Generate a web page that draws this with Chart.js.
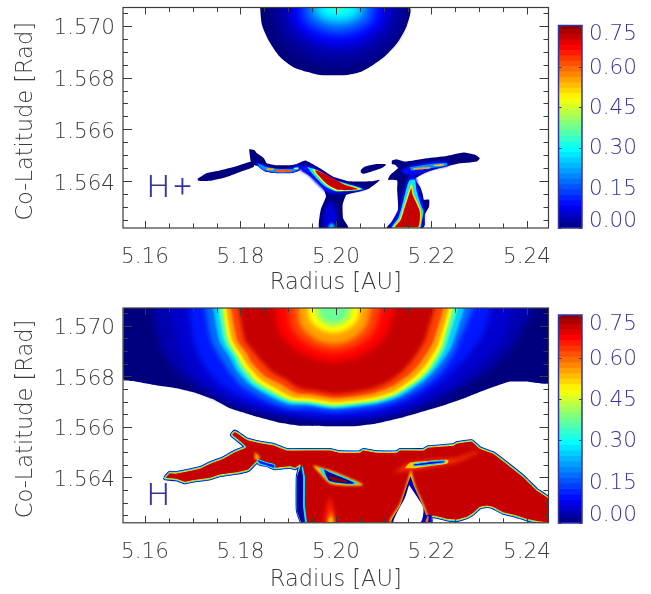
<!DOCTYPE html>
<html>
<head>
<meta charset="utf-8">
<script src="https://cdn.jsdelivr.net/npm/chart.js@4"></script>
<style>
  html, body { margin: 0; background: #fff; }
  canvas { position: absolute; filter: blur(0.45px); }
</style>
</head>
<body>
<canvas id="topMain"></canvas>
<canvas id="topBar"></canvas>
<canvas id="botMain"></canvas>
<canvas id="botBar"></canvas>
<script>
// axis ticks
const radiusTicks = [5.16,5.165,5.17,5.175,5.18,5.185,5.19,5.195,5.2,5.205,5.21,5.215,5.22,5.225,5.23,5.235,5.24];
const radiusLabels = ['5.16','5.18','5.20','5.22','5.24'];
const colatTicks = [1.5625,1.563,1.5635,1.564,1.5645,1.565,1.5655,1.566,1.5665,1.567,1.5675,1.568,1.5685,1.569,1.5695,1.57,1.5705];
const colatLabels = ['1.564','1.566','1.568','1.570'];
const barTicks = [0,0.15,0.3,0.45,0.6,0.75];
const barLabelAt = [0.026,0.145,0.295,0.445,0.595,0.72];
const barTickLabels = ['0.00','0.15','0.30','0.45','0.60','0.75'];
const barLevels = [0,0.02,0.04,0.06,0.08,0.1,0.12,0.14,0.16,0.18,0.2,0.22,0.24,0.26,0.28,0.3,0.32,0.34,0.36,0.38,0.4,0.42,0.44,0.46,0.48,0.5,0.52,0.54,0.56,0.58,0.6,0.62,0.64,0.66,0.68,0.7,0.72,0.74,0.76];

// colour table of the plot
const stopValues = [0,0.08,0.29,0.48,0.67,0.76];
const stopColors = [[0,0,127],[0,0,255],[0,255,255],[255,255,0],[255,0,0],[127,0,0]];

// H+ panel
const hPlusDomeLevels = [0.015,0.03,0.055,0.085,0.12,0.16,0.21,0.255,0.29,0.33];
const hPlusDomeEdge = [[5.1841,1.5707],[5.1845,1.57003],[5.1862,1.56933],[5.1883,1.56879],[5.191,1.56841],[5.1941,1.56821],[5.1966,1.5681],[5.2023,1.5681],[5.2056,1.56825],[5.2098,1.56875],[5.2128,1.56933],[5.2149,1.57003],[5.2153,1.5707]];
const hPlusDome = [
  [[5.1863,1.5707],[5.1874,1.56978],[5.1905,1.56906],[5.1951,1.56858],[5.2005,1.56839],[5.2059,1.56858],[5.2105,1.56906],[5.2136,1.56978],[5.2147,1.5707]],
  [[5.1879,1.5707],[5.1889,1.56993],[5.1917,1.56933],[5.1957,1.56893],[5.2005,1.56877],[5.2053,1.56893],[5.2093,1.56933],[5.2121,1.56993],[5.2131,1.5707]],
  [[5.1894,1.5707],[5.1903,1.57005],[5.1927,1.56955],[5.1963,1.56921],[5.2005,1.56908],[5.2047,1.56921],[5.2083,1.56955],[5.2107,1.57005],[5.2116,1.5707]],
  [[5.1909,1.5707],[5.1916,1.57016],[5.1938,1.56974],[5.1968,1.56946],[5.2005,1.56935],[5.2042,1.56946],[5.2072,1.56974],[5.2094,1.57016],[5.2101,1.5707]],
  [[5.1921,1.5707],[5.1928,1.57025],[5.1946,1.5699],[5.1973,1.56967],[5.2005,1.56958],[5.2037,1.56967],[5.2064,1.5699],[5.2082,1.57025],[5.2089,1.5707]],
  [[5.1934,1.5707],[5.1939,1.57033],[5.1955,1.57005],[5.1978,1.56985],[5.2005,1.56978],[5.2032,1.56985],[5.2055,1.57005],[5.2071,1.57033],[5.2076,1.5707]],
  [[5.1946,1.5707],[5.1951,1.57042],[5.1964,1.57021],[5.1983,1.57006],[5.2005,1.57001],[5.2027,1.57006],[5.2046,1.57021],[5.2059,1.57042],[5.2064,1.5707]],
  [[5.1957,1.5707],[5.1961,1.57048],[5.1971,1.57032],[5.1987,1.5702],[5.2005,1.57016],[5.2023,1.5702],[5.2039,1.57032],[5.2049,1.57048],[5.2053,1.5707]],
  [[5.1969,1.5707],[5.1972,1.57056],[5.198,1.57045],[5.1992,1.57038],[5.2005,1.57035],[5.2018,1.57038],[5.203,1.57045],[5.2038,1.57056],[5.2041,1.5707]],
  [[5.1988,1.5707],[5.199,1.57064],[5.1993,1.57059],[5.1999,1.57056],[5.2005,1.57055],[5.2011,1.57056],[5.2017,1.57059],[5.202,1.57064],[5.2022,1.5707]]
];
const hPlusTail = [[5.171,1.5641],[5.173,1.56432],[5.1757,1.56442],[5.1788,1.56456],[5.1828,1.56478],[5.1828,1.56456],[5.1799,1.56436],[5.1768,1.56415],[5.1736,1.56402],[5.1712,1.56402]];
const hPlusWing = [[5.1818,1.56524],[5.1829,1.56521],[5.1834,1.56509],[5.1849,1.56489],[5.1855,1.5647],[5.1876,1.56462],[5.1904,1.56462],[5.1918,1.56467],[5.1935,1.5648],[5.1946,1.56472],[5.1966,1.56451],[5.1994,1.56418],[5.2029,1.564],[5.2075,1.564],[5.2092,1.56406],[5.2085,1.56393],[5.2068,1.5637],[5.205,1.56361],[5.2022,1.56348],[5.2014,1.5631],[5.2015,1.56258],[5.2026,1.5622],[5.1965,1.5622],[5.1968,1.5629],[5.1979,1.56341],[5.1973,1.56374],[5.1952,1.56412],[5.1932,1.56438],[5.1925,1.56447],[5.1904,1.56442],[5.1876,1.56432],[5.1851,1.56438],[5.1841,1.56457],[5.1823,1.56467]];
const hPlusIsland = [[5.2052,1.56444],[5.2061,1.56457],[5.2082,1.56466],[5.2105,1.56465],[5.2096,1.56451],[5.2075,1.56438],[5.2057,1.56429],[5.2052,1.56434]];
const hPlusStem = [[5.2117,1.5648],[5.2127,1.56485],[5.2144,1.56476],[5.219,1.56489],[5.2232,1.56498],[5.2267,1.56511],[5.2291,1.56502],[5.2301,1.56489],[5.2295,1.56476],[5.2253,1.56467],[5.2218,1.56451],[5.2186,1.56432],[5.2165,1.56408],[5.2176,1.5638],[5.2182,1.56348],[5.2184,1.56329],[5.2195,1.56329],[5.2195,1.56303],[5.2186,1.56271],[5.2186,1.56233],[5.2182,1.5622],[5.2106,1.5622],[5.2117,1.56245],[5.213,1.5629],[5.2128,1.56367],[5.2128,1.56403],[5.2109,1.56406],[5.2114,1.56425],[5.213,1.56451],[5.2123,1.56464],[5.2117,1.56467]];
const wedgeBlue = [[5.1925,1.56464],[5.1952,1.56457],[5.1973,1.56432],[5.2008,1.56399],[5.2061,1.5637],[5.2015,1.56355],[5.1983,1.56356],[5.1962,1.56387],[5.1941,1.56425],[5.1925,1.56444]];
const wedgeCyan = [[5.1939,1.56456],[5.196,1.56444],[5.1994,1.56408],[5.2056,1.5637],[5.2002,1.56361],[5.1977,1.5638],[5.1952,1.56425]];
const wedgeYellow = [[5.195,1.56449],[5.1973,1.56432],[5.2008,1.56395],[5.2052,1.5637],[5.2004,1.56363],[5.1981,1.56383],[5.1958,1.56425]];
const wedgeRed = [[5.1956,1.56444],[5.1977,1.56429],[5.2015,1.5639],[5.2046,1.5637],[5.2006,1.56367],[5.1983,1.56387],[5.196,1.56429]];
const streakBlue = [[5.1832,1.56476],[5.1855,1.5646],[5.1876,1.56451],[5.1904,1.56453],[5.1921,1.56464],[5.1925,1.56444],[5.1907,1.56432],[5.1872,1.56432],[5.1848,1.56442],[5.1837,1.56457]];
const streakCyan = [[5.1837,1.5647],[5.1855,1.56455],[5.1876,1.56448],[5.1907,1.56447],[5.1921,1.56456],[5.1923,1.56447],[5.1907,1.56435],[5.1874,1.56434],[5.1849,1.56444],[5.1839,1.56457]];
const pillOne = [[5.1855,1.56452],[5.187,1.56449],[5.187,1.56443],[5.1855,1.56444]];
const pillTwo = [[5.1874,1.56445],[5.1905,1.56444],[5.1905,1.56437],[5.1874,1.56437]];
const pillThree = [[5.1912,1.56452],[5.1921,1.56452],[5.1921,1.56447],[5.1912,1.56447]];
const barBlue = [[5.2134,1.56442],[5.2162,1.56464],[5.2204,1.56476],[5.2235,1.56476],[5.2235,1.5646],[5.2204,1.56447],[5.2172,1.56425],[5.2148,1.56425]];
const barCyan = [[5.2155,1.56455],[5.22,1.56467],[5.2232,1.5647],[5.2232,1.56461],[5.22,1.56451],[5.2158,1.56442]];
const barOrangeOne = [[5.2162,1.56451],[5.2197,1.56455],[5.2197,1.56449],[5.2162,1.56445]];
const barOrangeTwo = [[5.2205,1.56464],[5.2226,1.56466],[5.2226,1.56461],[5.2205,1.56459]];
const stemBlue = [[5.2151,1.56416],[5.2165,1.56421],[5.2174,1.56367],[5.2184,1.56297],[5.2184,1.56239],[5.218,1.5622],[5.2112,1.5622],[5.2124,1.56258],[5.2134,1.56303],[5.214,1.56355],[5.2147,1.56395]];
const stemCyan = [[5.2155,1.56406],[5.2165,1.56406],[5.2169,1.56361],[5.2179,1.56303],[5.2183,1.56285],[5.2179,1.56239],[5.2176,1.5622],[5.2117,1.5622],[5.213,1.56258],[5.2137,1.56297],[5.2144,1.56348],[5.2151,1.56393]];
const stemRed = [[5.2158,1.56387],[5.2162,1.56348],[5.2176,1.5629],[5.2177,1.56252],[5.2172,1.5622],[5.2121,1.5622],[5.2134,1.56252],[5.2142,1.56297],[5.2151,1.56348]];
const leftStemBlue = [[5.1977,1.56297],[5.1987,1.56322],[5.1998,1.56297],[5.2003,1.5622],[5.1974,1.5622]];
const leftStemCyan = [[5.1982,1.5622],[5.1991,1.56239],[5.1998,1.5622]];

// H panel
const hDomeEdge = [[5.1555,1.5707],[5.1555,1.56785],[5.1575,1.56781],[5.1617,1.56766],[5.1666,1.56752],[5.1708,1.56733],[5.1743,1.56709],[5.1778,1.56673],[5.1827,1.56644],[5.1883,1.56616],[5.1925,1.56604],[5.2036,1.56602],[5.2078,1.56611],[5.2141,1.56638],[5.2218,1.5668],[5.2274,1.56717],[5.2316,1.56748],[5.2364,1.56779],[5.2399,1.56779],[5.2445,1.56772],[5.2445,1.5707]];
const hDomeLevels = [0.03,0.05,0.1,0.17,0.25,0.35,0.48,0.55,0.62,0.71];
const hDome = [
  [[5.161,1.5707],[5.1631,1.56924],[5.1669,1.56815],[5.1726,1.5674],[5.1799,1.5668],[5.1893,1.5664],[5.2,1.56625],[5.2103,1.5664],[5.2197,1.56695],[5.227,1.56765],[5.2333,1.56845],[5.2385,1.56964],[5.2417,1.5707]],
  [[5.1652,1.5707],[5.1665,1.56944],[5.1694,1.56825],[5.1747,1.56738],[5.182,1.56678],[5.1904,1.56643],[5.2,1.56627],[5.2092,1.56643],[5.2176,1.5669],[5.2249,1.56766],[5.2312,1.56865],[5.2354,1.56964],[5.2371,1.5707]],
  [[5.1688,1.5707],[5.1701,1.56944],[5.1726,1.56833],[5.1768,1.56754],[5.1837,1.56694],[5.1914,1.56659],[5.2,1.56647],[5.2088,1.56663],[5.2165,1.56714],[5.2228,1.56793],[5.2281,1.56896],[5.2312,1.56983],[5.2322,1.5707]],
  [[5.1719,1.5707],[5.1738,1.56944],[5.1763,1.56857],[5.1799,1.56766],[5.1845,1.56714],[5.1899,1.56674],[5.1946,1.56674],[5.1994,1.56663],[5.204,1.5667],[5.2088,1.56682],[5.2138,1.5671],[5.2186,1.56762],[5.2222,1.56825],[5.2255,1.56924],[5.2287,1.5707]],
  [[5.1736,1.5707],[5.1755,1.56944],[5.1778,1.56872],[5.1791,1.56825],[5.182,1.56766],[5.1851,1.5673],[5.1899,1.5669],[5.1946,1.56684],[5.1994,1.56672],[5.2036,1.56678],[5.2088,1.56692],[5.2134,1.5672],[5.2178,1.56773],[5.2209,1.56829],[5.2243,1.56924],[5.2266,1.5707]],
  [[5.1747,1.5707],[5.1765,1.56944],[5.1786,1.56876],[5.1799,1.56829],[5.1826,1.5677],[5.1855,1.56738],[5.1902,1.56698],[5.1946,1.56692],[5.1994,1.56678],[5.2036,1.56686],[5.2086,1.56698],[5.213,1.56726],[5.2174,1.56779],[5.2203,1.56833],[5.2232,1.56928],[5.2251,1.5707]],
  [[5.1756,1.5707],[5.1774,1.56944],[5.1795,1.56876],[5.1806,1.56837],[5.1834,1.56777],[5.1862,1.56746],[5.1904,1.56706],[5.1946,1.56699],[5.1994,1.56686],[5.2036,1.56693],[5.2086,1.56706],[5.2128,1.56734],[5.217,1.56785],[5.2197,1.56837],[5.2224,1.56932],[5.2239,1.5707]],
  [[5.1763,1.5707],[5.1782,1.56944],[5.1803,1.5688],[5.1814,1.56845],[5.1841,1.56789],[5.1868,1.56758],[5.1908,1.56718],[5.1948,1.56711],[5.1994,1.56698],[5.2036,1.56704],[5.2084,1.56718],[5.2124,1.56744],[5.2163,1.56795],[5.2188,1.56845],[5.2216,1.56936],[5.2232,1.5707]],
  [[5.1772,1.5707],[5.1793,1.56944],[5.1814,1.56888],[5.1824,1.56853],[5.1851,1.56801],[5.1879,1.56773],[5.1916,1.56734],[5.1952,1.56727],[5.1994,1.56714],[5.2036,1.5672],[5.208,1.56734],[5.2117,1.5676],[5.2155,1.56809],[5.2178,1.56857],[5.2205,1.56944],[5.2222,1.5707]],
  [[5.1788,1.5707],[5.1809,1.56944],[5.1828,1.56896],[5.1841,1.56865],[5.1866,1.56817],[5.1893,1.56789],[5.1925,1.5675],[5.1958,1.56742],[5.1994,1.5673],[5.2036,1.56736],[5.2075,1.5675],[5.2109,1.56777],[5.2142,1.56825],[5.2163,1.56872],[5.2188,1.56952],[5.2203,1.5707]]
];
const hDomeInnerLevels = [0.67,0.62,0.55,0.48,0.42,0.37];
const hDomeInner = [
  [[5.1869,1.5707],[5.1879,1.56984],[5.1907,1.56918],[5.1947,1.56873],[5.1995,1.56856],[5.2043,1.56873],[5.2083,1.56918],[5.2111,1.56984],[5.2121,1.5707]],
  [[5.1897,1.5707],[5.1905,1.57],[5.1926,1.56946],[5.1958,1.5691],[5.1995,1.56896],[5.2032,1.5691],[5.2064,1.56946],[5.2085,1.57],[5.2093,1.5707]],
  [[5.1918,1.5707],[5.1924,1.57013],[5.1941,1.56968],[5.1966,1.56938],[5.1995,1.56927],[5.2024,1.56938],[5.2049,1.56968],[5.2066,1.57013],[5.2072,1.5707]],
  [[5.1939,1.5707],[5.1943,1.5703],[5.1955,1.57],[5.1974,1.56979],[5.1995,1.56971],[5.2016,1.56979],[5.2035,1.57],[5.2047,1.5703],[5.2051,1.5707]],
  [[5.1955,1.5707],[5.1958,1.5704],[5.1967,1.57017],[5.198,1.57001],[5.1995,1.56995],[5.201,1.57001],[5.2023,1.57017],[5.2032,1.5704],[5.2035,1.5707]],
  [[5.1965,1.5707],[5.1968,1.57045],[5.1975,1.57028],[5.1984,1.57018],[5.1995,1.57014],[5.2006,1.57018],[5.2015,1.57028],[5.2022,1.57045],[5.2025,1.5707]]
];
const hBody = [[5.1642,1.56398],[5.1652,1.56418],[5.1663,1.56416],[5.1691,1.56426],[5.1715,1.56436],[5.1736,1.56455],[5.1764,1.56475],[5.1788,1.56501],[5.1811,1.56519],[5.1802,1.56537],[5.1782,1.56568],[5.1788,1.56581],[5.1797,1.56571],[5.1813,1.5655],[5.1841,1.56537],[5.1869,1.56528],[5.1897,1.56508],[5.1939,1.56508],[5.1987,1.56508],[5.2008,1.56499],[5.205,1.56499],[5.2057,1.56508],[5.2085,1.56499],[5.2127,1.56499],[5.2134,1.56508],[5.2183,1.56508],[5.2193,1.56519],[5.2246,1.56527],[5.2253,1.56535],[5.2284,1.56543],[5.2301,1.56515],[5.2329,1.56495],[5.2357,1.56455],[5.2392,1.56402],[5.242,1.5635],[5.2445,1.56317],[5.2445,1.5622],[5.2424,1.56224],[5.2399,1.56234],[5.2378,1.56247],[5.235,1.5626],[5.2329,1.56281],[5.2316,1.56286],[5.2301,1.56281],[5.2287,1.56257],[5.2274,1.56242],[5.2253,1.56231],[5.2232,1.56234],[5.2204,1.56247],[5.2198,1.56242],[5.2198,1.5622],[5.193,1.5622],[5.192,1.5627],[5.192,1.56402],[5.1925,1.56449],[5.1914,1.56436],[5.1904,1.56442],[5.1872,1.56436],[5.1855,1.56449],[5.1841,1.56453],[5.1834,1.56462],[5.1816,1.56429],[5.1792,1.56418],[5.1757,1.56409],[5.1736,1.56396],[5.1701,1.56387],[5.1684,1.5638],[5.1666,1.56392],[5.1642,1.56396]];
const hStemEdge = [[5.1918,1.56402],[5.1918,1.5627],[5.1928,1.5622],[5.1939,1.5622],[5.1935,1.56286],[5.1935,1.56402],[5.193,1.56445]];
const hStemBand = [[5.1918,1.56402],[5.1918,1.5627],[5.1928,1.5622],[5.1935,1.5622],[5.1931,1.56286],[5.1931,1.56402],[5.1927,1.56445]];
const hWedgeHalo = [[5.1952,1.56449],[5.198,1.56432],[5.1987,1.56429],[5.2022,1.56402],[5.2057,1.5637],[5.2022,1.56367],[5.1987,1.56376],[5.1966,1.56416],[5.1956,1.56436]];
const hWedgeCyan = [[5.1965,1.56438],[5.1987,1.56424],[5.2022,1.56397],[5.2047,1.56374],[5.2022,1.56372],[5.1987,1.56381],[5.1972,1.56414]];
const hWedgeNavy = [[5.1975,1.56432],[5.1987,1.56419],[5.2022,1.56392],[5.2038,1.56377],[5.2022,1.56375],[5.1987,1.56385],[5.1978,1.56412]];
const hWedgeCore = [[5.1985,1.56407],[5.2022,1.56386],[5.2025,1.56379],[5.1995,1.56386],[5.1985,1.56398]];
const hStreakGlow = [[5.212,1.56418],[5.2151,1.56455],[5.2197,1.56469],[5.2253,1.56475],[5.2295,1.56505],[5.2298,1.56499],[5.2256,1.56462],[5.2197,1.5644],[5.2155,1.56429]];
const hStreakYellow = [[5.2144,1.56436],[5.2155,1.56458],[5.2197,1.56466],[5.2235,1.56469],[5.2233,1.56455],[5.2197,1.56445],[5.2165,1.56436]];
const hStreakBlue = [[5.2162,1.56453],[5.2197,1.56462],[5.2228,1.56465],[5.2227,1.56458],[5.2197,1.56451],[5.2163,1.56445]];
const hHoleHalo = [[5.2157,1.56432],[5.2167,1.56363],[5.2186,1.56281],[5.2193,1.5622],[5.2113,1.5622],[5.2134,1.56297],[5.2147,1.5637]];
const hHoleBlue = [[5.2156,1.56405],[5.2164,1.56363],[5.2183,1.56281],[5.219,1.5622],[5.2117,1.5622],[5.2135,1.5629],[5.2148,1.56363]];
const hHole = [[5.2153,1.5637],[5.2144,1.56317],[5.2127,1.56257],[5.2121,1.5622],[5.2176,1.5622],[5.2183,1.56277],[5.2167,1.5633]];
const hFilament = [[5.219,1.56251],[5.22,1.56251],[5.2198,1.5622],[5.2181,1.5622]];
const hFilamentCore = [[5.2191,1.56245],[5.2194,1.56245],[5.2192,1.5622],[5.2187,1.5622]];
const hArmCyan = [[5.1835,1.56471],[5.1855,1.56458],[5.1872,1.56449],[5.187,1.56436],[5.1855,1.56445],[5.1839,1.56455]];
const hArmGlow = [[5.183,1.56501],[5.1841,1.56479],[5.1837,1.56469],[5.183,1.56471]];
const hGlowRed = [[5.1987,1.5633],[5.2001,1.5622],[5.1975,1.5622]];
const hGlowOrange = [[5.1989,1.5627],[5.1998,1.5622],[5.1981,1.5622]];
const hGlowYellow = [[5.1989,1.56244],[5.1994,1.5622],[5.1984,1.5622]];

const hPlusName = ['H+', 5.1604, 1.5634];
const hName = ['H', 5.1604, 1.5629];

function valueColor(v) {
  let i = 0;
  while (i < stopValues.length - 2 && v > stopValues[i + 1]) i++;
  const t = Math.min(1, (v - stopValues[i]) / (stopValues[i + 1] - stopValues[i]));
  const c = stopColors[i].map((a, k) => Math.round(a + (stopColors[i + 1][k] - a) * t));
  return `rgb(${c[0]},${c[1]},${c[2]})`;
}

// one closed contour as a filled line
function shape(pts, v, stroke, width, tension) {
  return {
    data: pts.concat([pts[0]]).map(p => ({x: p[0], y: p[1]})),
    showLine: true,
    fill: v === null ? false : 'shape',
    backgroundColor: v === 'white' ? '#fff' : (v === null ? 'transparent' : valueColor(v)),
    borderColor: stroke === undefined || stroke === null ? 'transparent' : valueColor(stroke),
    borderWidth: stroke === undefined || stroke === null ? 0 : (width || 1),
    pointRadius: 0,
    tension: tension === undefined ? 0.25 : tension,
    borderJoinStyle: 'round'
  };
}

// soft contour: blurred when painted, its top end pushed past the frame so the blur does not show there
function soft(ds, px) {
  ds.soft = px;
  return ds;
}
function domeLayer(pts, v, px) {
  const last = pts.length - 1;
  const open = pts.map((p, i) => (i === 0 || i === last) ? [p[0], 1.5716] : p);
  return soft(shape(open, v), px);
}

const softLayers = {
  id: 'softLayers',
  beforeDatasetsDraw(chart) {
    setSoft(chart, chart.data.datasets.length - 1);
  },
  afterDatasetDraw(chart, args) {
    setSoft(chart, args.index - 1);
  },
  afterDatasetsDraw(chart) {
    chart.ctx.filter = 'none';
  }
};
function setSoft(chart, index) {
  const ds = chart.data.datasets[index];
  chart.ctx.filter = ds && ds.soft ? `blur(${ds.soft}px)` : 'none';
}

const textFont = "'DejaVu Sans'";
const inkColor = '#3c3c3c';
const navyInk = '#35359a';

const frameTicks = {
  id: 'frameTicks',
  afterDraw(chart, args, opts) {
    const {ctx, chartArea: a, scales} = chart;
    ctx.save();
    ctx.strokeStyle = inkColor;
    ctx.lineWidth = 1;
    ctx.beginPath();
    scales.x.ticks.forEach(t => {
      const x = Math.round(scales.x.getPixelForValue(t.value)) + 0.5;
      const len = t.label ? 7 : 4.5;
      ctx.moveTo(x, a.top); ctx.lineTo(x, a.top + len);
      ctx.moveTo(x, a.bottom); ctx.lineTo(x, a.bottom - len);
    });
    scales.y.ticks.forEach(t => {
      const y = Math.round(scales.y.getPixelForValue(t.value)) + 0.5;
      const len = t.label ? 9 : 5;
      ctx.moveTo(a.left, y); ctx.lineTo(a.left + len, y);
      ctx.moveTo(a.right, y); ctx.lineTo(a.right - len, y);
    });
    ctx.stroke();
    ctx.lineWidth = 1.2;
    ctx.strokeRect(a.left, a.top, a.right - a.left, a.bottom - a.top);
    // species label inside the plot
    const [name, r, c] = opts.name;
    ctx.fillStyle = navyInk;
    ctx.font = "300 32px Roboto";
    ctx.letterSpacing = '4px';
    ctx.textBaseline = 'alphabetic';
    ctx.fillText(name, scales.x.getPixelForValue(r), scales.y.getPixelForValue(c));
    ctx.restore();
  }
};

function noPadding(s) {
  s.paddingTop = 0;
  s.paddingBottom = 0;
  s.paddingLeft = 0;
  s.paddingRight = 0;
}

function drawPanel(id, top, plotTop, plotBottom, datasets, name) {
  const canvas = document.getElementById(id);
  canvas.width = 560;
  canvas.height = 297;
  canvas.style.left = '0px';
  canvas.style.top = top + 'px';
  new Chart(canvas, {
    type: 'scatter',
    data: {datasets: datasets.slice().reverse()},
    plugins: [softLayers, frameTicks],
    options: {
      responsive: false,
      animation: false,
      layout: {padding: {top: plotTop - top, right: 11.5, left: 0, bottom: 0}},
      plugins: {legend: {display: false}, tooltip: {enabled: false}, frameTicks: {name}},
      scales: {
        x: {
          type: 'linear', min: 5.1554, max: 5.2445,
          grid: {display: false, drawTicks: false}, border: {display: false},
          afterBuildTicks: s => { s.ticks = radiusTicks.map(v => ({value: v})); },
          afterFit: s => { s.height = top + 297 - plotBottom; noPadding(s); },
          ticks: {
            autoSkip: false, maxRotation: 0, minRotation: 0, padding: 16.5, color: inkColor,
            font: {family: textFont, size: 21.5, weight: 200},
            callback: v => radiusLabels.includes(v.toFixed(2)) && Math.round(v * 1000) % 20 === 0 ? v.toFixed(2) : ''
          },
          title: {display: true, text: 'Radius [AU]', color: inkColor, padding: {top: 0, bottom: 0},
                  font: {family: textFont, size: 22.5, weight: 200}}
        },
        y: {
          type: 'linear', min: 1.5622, max: 1.5707,
          grid: {display: false, drawTicks: false}, border: {display: false},
          afterBuildTicks: s => { s.ticks = colatTicks.map(v => ({value: v})); },
          afterFit: s => { s.width = 123; noPadding(s); },
          ticks: {
            autoSkip: false, padding: 8, color: inkColor, labelOffset: 3,
            font: {family: textFont, size: 21.5, weight: 200},
            callback: v => colatLabels.includes(v.toFixed(3)) ? v.toFixed(3) : ''
          },
          title: {display: true, text: 'Co-Latitude [Rad] ', color: inkColor, padding: {top: 13, bottom: 0},
                  font: {family: textFont, size: 22.5, weight: 200}}
        }
      }
    }
  });
}

const colorbarFrame = {
  id: 'colorbarFrame',
  afterDraw(chart) {
    const {ctx, chartArea: a, scales} = chart;
    ctx.save();
    ctx.strokeStyle = navyInk;
    ctx.lineWidth = 1.5;
    ctx.strokeRect(a.left, a.top, a.right - a.left, a.bottom - a.top);
    ctx.lineWidth = 1;
    ctx.beginPath();
    barTicks.forEach(v => {
      const y = Math.round(scales.y.getPixelForValue(v)) + 0.5;
      ctx.moveTo(a.left, y); ctx.lineTo(a.left + 3, y);
      ctx.moveTo(a.right, y); ctx.lineTo(a.right - 3, y);
    });
    ctx.stroke();
    ctx.restore();
  }
};

function drawColorbar(id, top, plotTop, plotBottom) {
  const canvas = document.getElementById(id);
  canvas.width = 101;
  canvas.height = 297;
  canvas.style.left = '550px';
  canvas.style.top = top + 'px';
  new Chart(canvas, {
    type: 'bar',
    data: {
      labels: ['level'],
      datasets: barLevels.slice(0, -1).map((lo, i) => ({
        data: [[lo, barLevels[i + 1] + 0.002]],
        backgroundColor: valueColor(lo + 0.01),
        borderWidth: 0,
        grouped: false,
        barPercentage: 1,
        categoryPercentage: 1
      }))
    },
    plugins: [colorbarFrame],
    options: {
      responsive: false,
      animation: false,
      layout: {padding: {top: plotTop - top, bottom: top + 297 - plotBottom, left: 8.5, right: 0}},
      plugins: {legend: {display: false}, tooltip: {enabled: false}},
      scales: {
        x: {display: false},
        y: {
          position: 'right', min: 0, max: 0.755,
          grid: {display: false, drawTicks: false}, border: {display: false},
          afterBuildTicks: s => { s.ticks = barLabelAt.map(v => ({value: v})); },
          afterFit: s => { s.width = 69; noPadding(s); },
          ticks: {
            autoSkip: false, padding: 7, color: navyInk,
            font: {family: textFont, size: 21.5, weight: 200},
            callback: (v, i) => barTickLabels[i]
          }
        }
      }
    }
  });
}

// draw order: first entry is painted first
const hPlusSets = [
  shape(hPlusDomeEdge, 0, null),
  ...hPlusDome.map((pts, i) => domeLayer(pts, hPlusDomeLevels[i], 2.5)),
  shape(hPlusTail, 0, null, 0, 0.15),
  shape(hPlusWing, 0, null, 0, 0.15),
  shape(hPlusIsland, 0, null, 0, 0.2),
  shape(hPlusStem, 0, null, 0, 0.15),
  soft(shape(leftStemBlue, 0.06), 1.5),
  soft(shape(leftStemCyan, 0.25), 0.8),
  soft(shape(streakBlue, 0.09), 0.7),
  soft(shape(streakCyan, 0.2), 0.5),
  shape(pillOne, 0.55),
  shape(pillTwo, 0.6),
  shape(pillThree, 0.45),
  soft(shape(wedgeBlue, 0.09), 0.8),
  soft(shape(wedgeCyan, 0.27), 0.5),
  shape(wedgeYellow, 0.48),
  shape(wedgeRed, 0.71),
  soft(shape(barBlue, 0.09), 0.8),
  soft(shape(barCyan, 0.2), 0.5),
  shape(barOrangeOne, 0.55),
  shape(barOrangeTwo, 0.52),
  soft(shape(stemBlue, 0.09), 0.8),
  soft(shape(stemCyan, 0.27), 0.5),
  shape(stemRed, 0.71, 0.5, 1.5)
];

const hDomeBlur = [3, 3, 3, 2.5, 1.2, 1, 1, 1, 1.2, 2];
const hDomeInnerBlur = [3, 3, 2.5, 2, 1.5, 1.5];
const hSets = [
  shape(hDomeEdge, 0, null, 0, 0.1),
  ...hDome.map((pts, i) => domeLayer(pts, hDomeLevels[i], hDomeBlur[i])),
  ...hDomeInner.map((pts, i) => domeLayer(pts, hDomeInnerLevels[i], hDomeInnerBlur[i])),
  shape(hBody, null, 0.03, 4, 0.1),
  shape(hBody, null, 0.27, 2.4, 0.1),
  shape(hBody, 0.71, 0.5, 1, 0.1),
  shape(hStemEdge, 0.27, null, 0, 0.1),
  shape(hStemBand, 0.02, null, 0, 0.1),
  soft(shape(hGlowRed, 0.65), 2),
  soft(shape(hGlowOrange, 0.58), 1.5),
  soft(shape(hGlowYellow, 0.5), 1),
  soft(shape(hStreakGlow, 0.63, null, 0, 0.2), 2),
  soft(shape(hStreakYellow, 0.52), 0.7),
  shape(hStreakBlue, 0.06, 0.27, 1),
  soft(shape(hArmGlow, 0.55), 1.2),
  shape(hArmCyan, 0.1, 0.3, 1),
  soft(shape(hHoleHalo, 0.52), 1),
  shape(hHoleBlue, 0.03),
  shape(hHole, 'white'),
  shape(hFilament, 0.05),
  shape(hFilamentCore, 0.58),
  soft(shape(hWedgeHalo, 0.52), 1),
  shape(hWedgeCyan, 0.27),
  shape(hWedgeNavy, 0.02),
  shape(hWedgeCore, 0.76)
];

drawPanel('topMain', 0, 7.5, 228, hPlusSets, hPlusName);
drawColorbar('topBar', 0, 25.5, 228);
drawPanel('botMain', 297, 308, 522.8, hSets, hName);
drawColorbar('botBar', 297, 315, 523);
</script>
</body>
</html>
